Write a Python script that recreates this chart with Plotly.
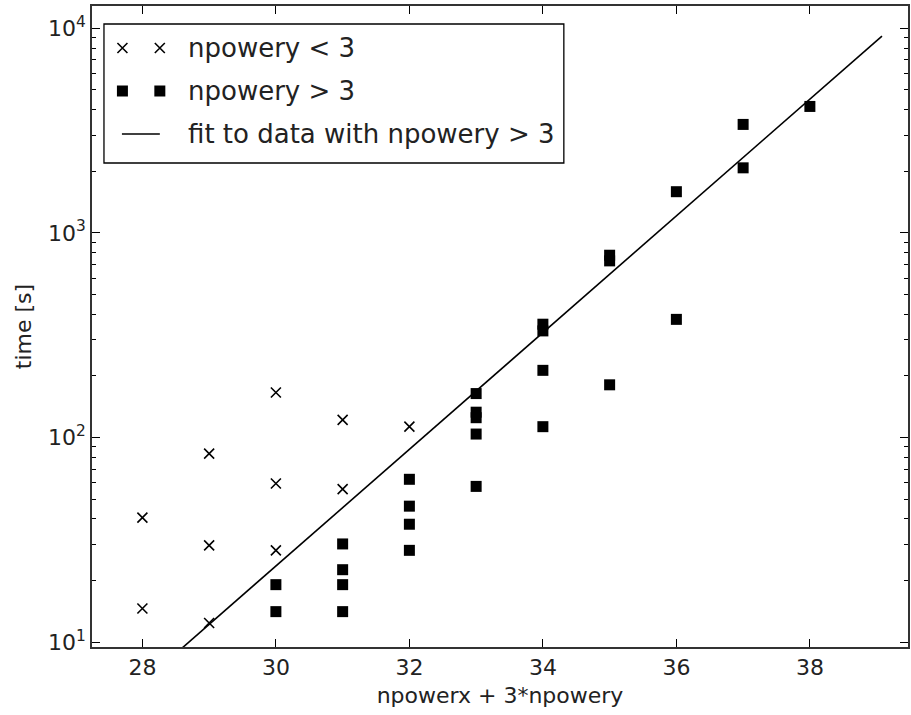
import numpy as np
import plotly.graph_objects as go

# Runs with npowery < 3
x_low = [28, 28, 29, 29, 29, 30, 30, 30, 31, 31, 32]
t_low = [40.6, 14.6, 83.4, 29.7, 12.4, 166, 59.6, 28.1, 122, 56.0, 113]

# Runs with npowery > 3
x_high = [30, 30, 31, 31, 31, 31, 32, 32, 32, 32,
          33, 33, 33, 33, 33, 34, 34, 34, 34, 35, 35, 35, 36, 36, 37, 37, 38]
t_high = [19.1, 14.1, 30.2, 22.6, 19.1, 14.1, 62.5, 46.2, 37.7, 28.1,
          164, 133, 125, 104, 57.7, 358, 332, 213, 113, 778, 730, 181,
          1590, 378, 3390, 2080, 4150]

# Exponential fit: log10(t) = FIT_INTERCEPT + FIT_SLOPE * x
FIT_SLOPE = 0.2852
FIT_INTERCEPT = -7.184
FIT_X = [28.0, 39.08]

legend_labels = ["npowery < 3", "npowery > 3", "fit to data with npowery > 3"]
y_tickvals = [10, 100, 1000, 10000]
y_ticktext = ["10<sup>1</sup>", "10<sup>2</sup>", "10<sup>3</sup>", "10<sup>4</sup>"]
x_tickvals = [28, 30, 32, 34, 36, 38]

W, H = 911, 715
ML, MR, MT, MB = 92, 1, 6, 68
FONT = "DejaVu Sans, Bitstream Vera Sans, sans-serif"

fit_x = np.linspace(FIT_X[0], FIT_X[1], 50)
fit_t = 10 ** (FIT_INTERCEPT + FIT_SLOPE * fit_x)

fig = go.Figure()
fig.add_trace(go.Scatter(
    x=x_low, y=t_low, mode="markers", name=legend_labels[0], showlegend=False,
    marker=dict(symbol="x-thin", size=10, color="black",
                line=dict(color="black", width=1.6)),
))
fig.add_trace(go.Scatter(
    x=x_high, y=t_high, mode="markers", name=legend_labels[1], showlegend=False,
    marker=dict(symbol="square", size=11, color="black",
                line=dict(color="black", width=0)),
))
fig.add_trace(go.Scatter(
    x=fit_x, y=fit_t, mode="lines", name=legend_labels[2], showlegend=False,
    line=dict(color="black", width=1.6),
))

# Hand-built legend box (two sample markers per entry), positioned in pixels
plot_w = W - ML - MR
plot_h = H - MT - MB


def px(xp):
    return (xp - ML) / plot_w


def py(yp):
    return (H - MB - yp) / plot_h


shapes = []
annotations = []
shapes.append(dict(type="rect", xref="paper", yref="paper",
                   x0=px(104), x1=px(565), y0=py(163), y1=py(24),
                   line=dict(color="black", width=1.3), fillcolor="white",
                   layer="above"))
row_y = [48, 91, 134]
sample_x = [122.5, 160]
for sx in sample_x:
    shapes.append(dict(type="path", xref="paper", yref="paper",
                       xsizemode="pixel", ysizemode="pixel",
                       xanchor=px(sx), yanchor=py(row_y[0]),
                       path="M -5 -5 L 5 5 M -5 5 L 5 -5",
                       line=dict(color="black", width=1.6), layer="above"))
    shapes.append(dict(type="rect", xref="paper", yref="paper",
                       xsizemode="pixel", ysizemode="pixel",
                       xanchor=px(sx), yanchor=py(row_y[1]),
                       x0=-5.5, x1=5.5, y0=-5.5, y1=5.5,
                       fillcolor="black", line=dict(width=0), layer="above"))
shapes.append(dict(type="line", xref="paper", yref="paper",
                   x0=px(122), x1=px(160), y0=py(row_y[2]), y1=py(row_y[2]),
                   line=dict(color="black", width=1.6), layer="above"))
for label, ry in zip(legend_labels, row_y):
    annotations.append(dict(text=label, xref="paper", yref="paper",
                            x=px(186), y=py(ry), xanchor="left", yanchor="middle",
                            showarrow=False, font=dict(size=26, color="#222")))

fig.update_layout(
    width=W, height=H,
    margin=dict(l=ML, r=MR, t=MT, b=MB, pad=0),
    paper_bgcolor="white", plot_bgcolor="white",
    font=dict(family=FONT, color="#222", size=22),
    shapes=shapes, annotations=annotations,
    showlegend=False,
)
fig.update_xaxes(
    range=[27.245, 39.47], tickvals=x_tickvals,
    ticks="inside", ticklen=8, tickwidth=1, tickcolor="black",
    showline=True, linecolor="#333", linewidth=1.6, mirror="allticks",
    showgrid=False, zeroline=False,
    tickfont=dict(size=22, family=FONT, color="#222"),
    title=dict(text="npowerx + 3*npowery", standoff=8,
               font=dict(size=22, family=FONT, color="#222")),
)
fig.update_yaxes(
    type="log", range=[np.log10(9.47), np.log10(12850)],
    tickvals=y_tickvals, ticktext=y_ticktext,
    ticks="inside", ticklen=8, tickwidth=1, tickcolor="black",
    minor=dict(ticks="inside", ticklen=4, tickwidth=1, tickcolor="black",
               dtick="D1", showgrid=False),
    showline=True, linecolor="#333", linewidth=1.6, mirror="allticks",
    showgrid=False, zeroline=False,
    tickfont=dict(size=22, family=FONT, color="#222"),
    title=dict(text="time [s]", standoff=10,
               font=dict(size=22, family=FONT, color="#222")),
)

fig.write_html("out.html")
